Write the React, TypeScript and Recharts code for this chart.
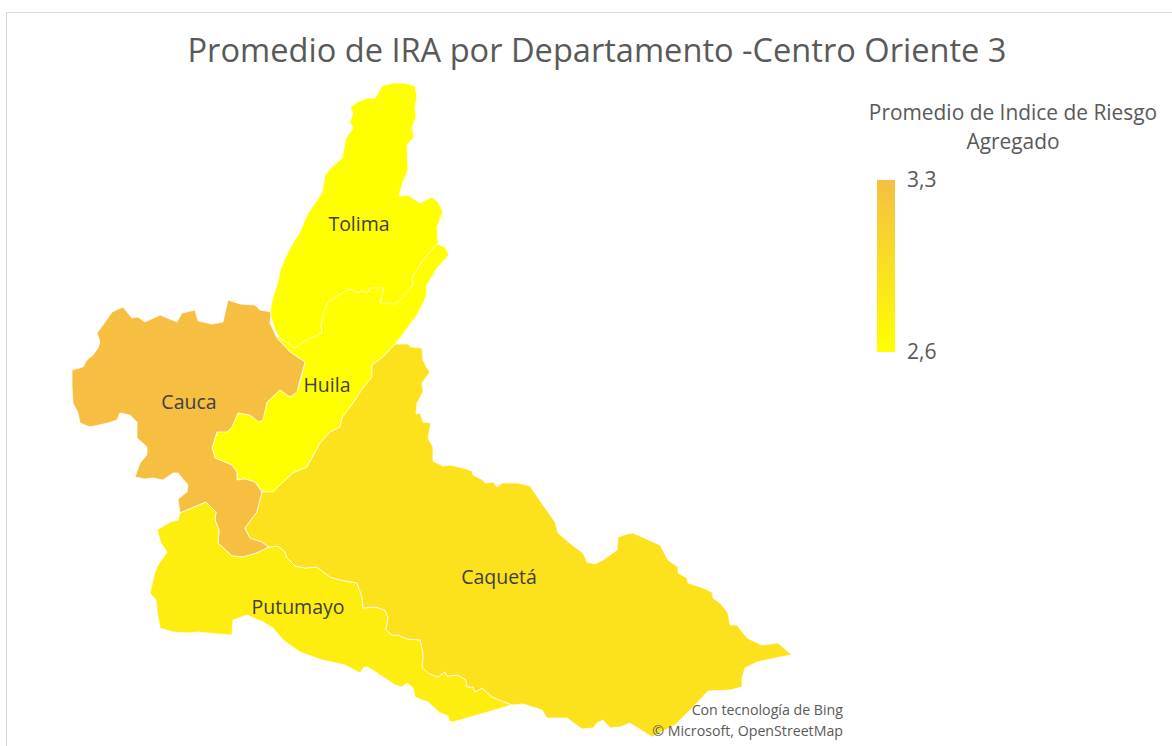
import { ScatterChart, Scatter, XAxis, YAxis, LabelList, BarChart, Bar } from "recharts";

type Vertex = [number, number];

// boundaries, in map units
const tolimaBoundary: Vertex[] = [
  [375, 98], [382, 86], [393, 83], [404, 83], [415, 86], [417, 97], [415, 107], [416, 118], [412, 127], [414, 137],
  [407, 145], [408, 170], [403, 182], [399, 196], [408, 195], [420, 203], [432, 197], [438, 202], [443, 212], [437, 227],
  [438, 243], [423, 260], [417, 270], [412, 278], [413, 285], [403, 297], [395, 304], [380, 303], [384, 288], [370, 288],
  [367, 293], [362, 290], [358, 293], [350, 289], [335, 297], [328, 302], [323, 315], [321, 325], [322, 333], [303, 342],
  [295, 348], [280, 338], [275, 330], [270, 313], [273, 297], [277, 285], [281, 268], [285, 258], [293, 243], [300, 232],
  [307, 215], [315, 203], [322, 193], [325, 175], [332, 167], [342, 158], [346, 138], [353, 128], [350, 122], [353, 113],
  [350, 108], [357, 102], [368, 98], [375, 98],
];

const huilaBoundary: Vertex[] = [
  [437, 244], [445, 247], [449, 255], [437, 268], [427, 285], [426, 297], [417, 315], [400, 338], [395, 344], [383, 357],
  [372, 365], [372, 377], [363, 388], [353, 403], [342, 418], [340, 427], [330, 432], [320, 443], [307, 467], [293, 473],
  [282, 483], [273, 492], [263, 492], [255, 482], [245, 479], [237, 480], [237, 472], [232, 465], [215, 458], [212, 448],
  [217, 432], [228, 430], [233, 422], [238, 413], [250, 415], [260, 422], [264, 413], [267, 402], [280, 390], [290, 397],
  [298, 390], [305, 362], [290, 352], [277, 338], [320, 300], [400, 270], [437, 244],
];

const caucaBoundary: Vertex[] = [
  [228, 300], [240, 304], [255, 305], [260, 310], [271, 312], [270, 323], [277, 338], [290, 352], [305, 362], [300, 380],
  [297, 392], [290, 397], [280, 390], [267, 402], [263, 420], [259, 422], [250, 415], [238, 413], [232, 427], [227, 432],
  [217, 432], [212, 448], [215, 458], [232, 465], [237, 472], [237, 480], [245, 479], [255, 482], [262, 492], [257, 512],
  [245, 528], [250, 538], [262, 542], [269, 547], [257, 553], [243, 557], [232, 556], [218, 543], [219, 530], [215, 520],
  [216, 512], [206, 502], [180, 513], [178, 499], [187, 492], [188, 485], [178, 473], [173, 473], [163, 480], [153, 478],
  [145, 479], [135, 477], [140, 463], [147, 455], [147, 447], [137, 438], [137, 422], [130, 415], [120, 413], [117, 420],
  [108, 423], [90, 427], [80, 423], [78, 413], [73, 403], [72, 387], [72, 370], [83, 367], [87, 360], [93, 355],
  [98, 348], [100, 342], [97, 333], [103, 325], [112, 312], [123, 307], [132, 318], [138, 317], [145, 322], [160, 315],
  [177, 322], [182, 313], [195, 310], [198, 321], [212, 324], [223, 322], [228, 300],
];

const putumayoBoundary: Vertex[] = [
  [206, 502], [216, 512], [215, 520], [219, 530], [218, 543], [232, 556], [243, 557], [257, 553], [269, 547], [278, 546],
  [285, 552], [287, 558], [295, 566], [305, 568], [317, 567], [330, 577], [340, 580], [357, 583], [362, 597], [363, 608],
  [375, 607], [385, 610], [388, 618], [386, 630], [392, 635], [398, 635], [407, 639], [420, 640], [423, 652], [423, 660],
  [422, 667], [428, 673], [438, 677], [445, 672], [447, 676], [458, 675], [466, 680], [467, 687], [473, 687], [475, 692],
  [482, 688], [492, 697], [512, 705], [453, 722], [449, 721], [448, 716], [440, 713], [428, 702], [422, 700], [415, 697],
  [413, 688], [407, 683], [402, 687], [395, 685], [383, 677], [368, 667], [364, 667], [360, 673], [345, 665], [322, 660],
  [300, 652], [283, 640], [273, 628], [263, 622], [247, 615], [233, 620], [232, 635], [217, 634], [198, 632], [187, 633],
  [173, 632], [160, 628], [158, 617], [156, 600], [150, 593], [155, 572], [158, 565], [167, 552], [161, 543], [157, 530],
  [170, 522], [178, 520], [180, 513], [206, 502],
];

const caquetaBoundary: Vertex[] = [
  [395, 344], [408, 344], [411, 347], [422, 348], [423, 360], [427, 368], [430, 372], [422, 383], [423, 392], [417, 403],
  [416, 414], [420, 413], [423, 422], [431, 423], [428, 438], [433, 447], [433, 461], [443, 466], [450, 465], [463, 468],
  [472, 471], [473, 475], [483, 480], [485, 483], [493, 482], [497, 487], [502, 483], [518, 483], [530, 486], [543, 505],
  [555, 522], [558, 533], [572, 545], [583, 553], [587, 562], [595, 564], [603, 560], [617, 550], [618, 537], [627, 534],
  [633, 533], [660, 545], [668, 560], [678, 567], [678, 573], [687, 578], [688, 583], [703, 588], [712, 592], [713, 598],
  [720, 603], [728, 613], [730, 625], [737, 625], [747, 638], [762, 645], [778, 643], [792, 655], [780, 657], [757, 662],
  [745, 668], [742, 678], [742, 687], [730, 690], [708, 691], [697, 703], [687, 713], [675, 725], [652, 737], [630, 723],
  [620, 727], [610, 728], [603, 720], [597, 723], [593, 728], [582, 729], [567, 718], [547, 718], [542, 710], [523, 704],
  [512, 705], [492, 697], [482, 688], [475, 692], [473, 687], [467, 687], [466, 680], [458, 675], [447, 676], [445, 672],
  [438, 677], [428, 673], [422, 667], [423, 660], [423, 652], [420, 640], [407, 639], [398, 635], [392, 635], [386, 630],
  [388, 618], [385, 610], [375, 607], [363, 608], [362, 597], [357, 583], [340, 580], [330, 577], [317, 567], [305, 568],
  [295, 566], [287, 558], [285, 552], [278, 546], [269, 547], [262, 542], [250, 538], [245, 528], [257, 512], [262, 492],
  [273, 492], [282, 483], [293, 473], [307, 467], [320, 443], [330, 432], [340, 427], [342, 418], [353, 403], [363, 388],
  [372, 377], [372, 365], [383, 357], [395, 344],
];

const departments = ["Huila", "Tolima", "Cauca", "Putumayo", "Caquetá"];
const boundaries = [huilaBoundary, tolimaBoundary, caucaBoundary, putumayoBoundary, caquetaBoundary];
const fills = ["#FFFF00", "#FFFF00", "#F6BF42", "#FEEE10", "#FBE21D"];

const labelNames = ["Tolima", "Huila", "Cauca", "Putumayo", "Caquetá"];
const labelX = [359, 327, 189, 298, 499];
const labelY = [224, 385, 402, 607, 577];

const legendRange = [2.6, 3.3];

const font = "'Open Sans', sans-serif";

const labelData = labelNames.map((name, i) => ({ x: labelX[i], y: labelY[i], name }));
const legendData = [{ name: "IRA", rango: legendRange }];

export default function App() {
  return (
    <div
      style={{
        position: "absolute",
        left: 0,
        top: 0,
        width: 1172,
        height: 746,
        overflow: "hidden",
        background: "#fff",
        fontFamily: font,
      }}
    >
      <div
        style={{
          position: "absolute",
          left: 6,
          top: 12,
          width: 1180,
          height: 760,
          border: "1px solid #D9D9D9",
        }}
      />
      <div
        style={{
          position: "absolute",
          left: 6,
          width: 1182,
          top: 28,
          textAlign: "center",
          fontSize: 32.6,
          lineHeight: "44px",
          color: "#595959",
          whiteSpace: "nowrap",
        }}
      >
        Promedio de IRA por Departamento -Centro Oriente 3
      </div>

      <div style={{ position: "absolute", left: 0, top: 0 }}>
        <ScatterChart width={1172} height={746} margin={{ top: 0, right: 0, bottom: 0, left: 0 }}>
          <XAxis type="number" dataKey="x" domain={[0, 1172]} hide />
          <YAxis type="number" dataKey="y" domain={[0, 746]} reversed hide />
          {departments.map((name, i) => (
            <Scatter
              key={name}
              name={name}
              data={boundaries[i].map(([x, y]) => ({ x, y }))}
              line={{ fill: fills[i], stroke: "#FFFFFF", strokeOpacity: 0.75, strokeWidth: 1 }}
              shape={() => null}
              isAnimationActive={false}
            />
          ))}
          <Scatter data={labelData} shape={() => null} isAnimationActive={false}>
            <LabelList dataKey="name" position="center" fill="#404040" fontSize={19.5} fontFamily={font} />
          </Scatter>
        </ScatterChart>
      </div>

      <div
        style={{
          position: "absolute",
          left: 853,
          width: 320,
          top: 98,
          textAlign: "center",
          fontSize: 20.9,
          lineHeight: "29px",
          color: "#595959",
          whiteSpace: "nowrap",
        }}
      >
        Promedio de Indice de Riesgo
        <br />
        Agregado
      </div>

      <div style={{ position: "absolute", left: 877, top: 160 }}>
        <BarChart
          width={78}
          height={212}
          data={legendData}
          margin={{ top: 20, right: 0, bottom: 20, left: 0 }}
          barCategoryGap={0}
        >
          <defs>
            <linearGradient id="legendScale" x1="0" y1="0" x2="0" y2="1">
              <stop offset="0%" stopColor="#F6BF42" />
              <stop offset="100%" stopColor="#FFFF00" />
            </linearGradient>
          </defs>
          <XAxis dataKey="name" hide />
          <YAxis
            orientation="right"
            width={60}
            domain={[legendRange[0], legendRange[1]]}
            ticks={legendRange}
            tickFormatter={(v: number) => v.toFixed(1).replace(".", ",")}
            axisLine={false}
            tickLine={false}
            tickMargin={6}
            tick={{ fontSize: 21, fill: "#595959", fontFamily: font }}
          />
          <Bar dataKey="rango" fill="url(#legendScale)" isAnimationActive={false} />
        </BarChart>
      </div>

      <div
        style={{
          position: "absolute",
          right: 329,
          top: 699,
          textAlign: "right",
          fontSize: 14.2,
          lineHeight: "21px",
          color: "#595959",
          whiteSpace: "nowrap",
        }}
      >
        Con tecnología de Bing
        <br />© Microsoft, OpenStreetMap
      </div>
    </div>
  );
}
